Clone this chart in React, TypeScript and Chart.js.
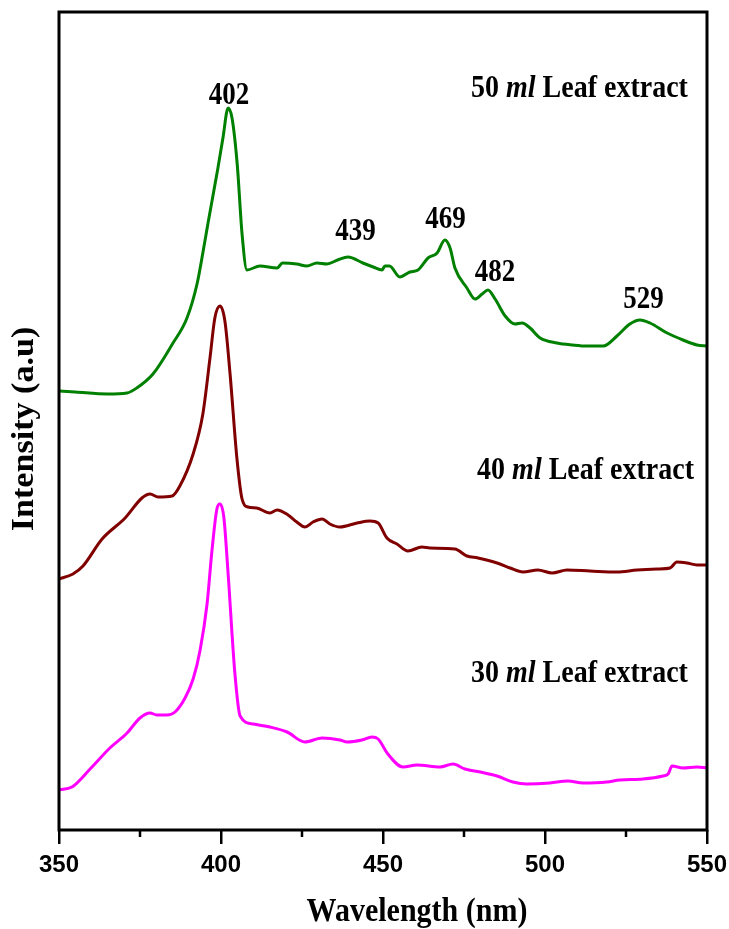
import React, { useEffect, useRef } from "react";
import { Chart, registerables } from "chart.js";

Chart.register(...registerables);

// ---- data (wavelength nm, intensity a.u.) ----
const wl50 = [350, 355, 365, 371, 374, 379, 385, 389.5, 392.6, 394.5, 396, 397.5, 399, 400.6, 402.2, 403.4, 405, 406.5, 408, 412, 417.3, 419, 423.4, 426.5, 429.6, 432.7, 436, 439.2, 443.8, 447, 449.7, 450.6, 452, 455.2, 458.3, 460.8, 463.9, 466.7, 469.1, 470.7, 472.2, 475.9, 478.4, 480.6, 482.4, 484.6, 487.7, 490.7, 492.9, 495.4, 498.5, 503.7, 508.6, 513, 518, 522.2, 526.2, 529.3, 532.4, 537.7, 542.6, 546.9, 550];
const int50 = [439, 438, 436, 437, 442, 456, 486, 512, 546, 579, 607, 634, 661, 692, 722, 712, 666, 596, 560, 564, 562, 567, 566, 564, 567, 566, 570, 573, 567, 563, 560, 564, 564, 553, 558, 560, 572, 577, 590, 582, 562, 542, 531, 536, 540, 531, 514, 506, 507, 502, 492, 487, 485, 484, 484, 494, 506, 510, 507, 497, 490, 485, 484];

const wl40 = [350, 354.3, 357.4, 363.3, 370.4, 375.6, 378.1, 380.6, 384.9, 387.3, 391.4, 394.4, 396.6, 398.1, 399.7, 401.2, 402.8, 404.9, 406.5, 408.3, 411, 415.1, 417.3, 420.7, 423.4, 425.9, 428.4, 431.2, 433.6, 436.7, 442, 446, 448.5, 451.2, 454.3, 457.7, 462, 464.5, 472.2, 475.9, 479.3, 485.2, 489.2, 493.2, 497.8, 502.2, 506.8, 513.9, 522.2, 528.4, 534.6, 538.6, 540.7, 543.8, 546.9, 550];
const int40 = [251, 256, 264, 291, 312, 332, 336, 333, 334, 344, 376, 416, 472, 512, 524, 509, 456, 372, 331, 323, 322, 317, 320, 315, 308, 303, 308, 311, 306, 303, 307, 309, 307, 292, 286, 279, 283, 282, 281, 274, 272, 267, 262, 258, 260, 257, 260, 259, 258, 260, 261, 262, 268, 267, 265, 265];

const wl30 = [350, 354, 359.6, 365.7, 371, 375, 378.1, 380.2, 383.3, 385.8, 388.9, 391.4, 393.5, 395.7, 397.2, 398.8, 399.7, 400.9, 402.2, 404.3, 405.9, 409.9, 415.1, 420.4, 425.9, 431.2, 436.7, 438.9, 443.5, 446.6, 448.5, 451.5, 456.2, 460.5, 467.6, 471.6, 475.3, 480, 485.2, 490.1, 494.4, 501.5, 507.1, 511.7, 519.1, 523.1, 530.2, 536.4, 538, 539.2, 542.6, 546.9, 550];
const int30 = [40, 43, 61, 82, 97, 112, 117, 115, 115, 118, 132, 151, 179, 226, 279, 322, 326, 312, 256, 156, 114, 106, 103, 98, 88, 92, 90, 88, 90, 93, 91, 76, 63, 65, 63, 66, 61, 58, 54, 48, 46, 47, 49, 47, 48, 50, 51, 54, 56, 64, 62, 63, 62];

// peak annotations on the 50 ml curve
const peakText = ["402", "439", "469", "482", "529"];
const peakX = [402.5, 441.5, 469.3, 484.6, 530.4];
const peakY = [734, 598, 610, 557, 530];

// series labels (right edge x, centre y)
const seriesAmount = ["50", "40", "30"];
const labelX = [544.1, 546.0, 544.1];
const labelY = [741, 359, 156];

const xTicksMajor = [350, 400, 450, 500, 550];
const xTicksMinor = [375, 425, 475, 525];

const xTitle = "Wavelength (nm)";
const yTitle = "Intensity (a.u)";

const toPts = (xs: number[], ys: number[]) => xs.map((x, i) => ({ x, y: ys[i] }));

const SERIF = '"Liberation Serif", "Times New Roman", serif';

const decorPlugin = {
  id: "decor",
  afterDraw(chart: any) {
    const { ctx, chartArea } = chart;
    const xs = chart.scales.x;
    const ys = chart.scales.y;
    ctx.save();
    // frame
    ctx.strokeStyle = "#000";
    ctx.lineWidth = 3;
    ctx.strokeRect(chartArea.left, chartArea.top, chartArea.right - chartArea.left, chartArea.bottom - chartArea.top);
    // minor ticks
    ctx.lineWidth = 2.5;
    xTicksMinor.forEach((v) => {
      const px = xs.getPixelForValue(v);
      ctx.beginPath();
      ctx.moveTo(px, chartArea.bottom);
      ctx.lineTo(px, chartArea.bottom + 7);
      ctx.stroke();
    });
    ctx.fillStyle = "#000";
    ctx.textBaseline = "middle";
    // axis titles
    ctx.textAlign = "center";
    ctx.font = `bold 30px ${SERIF}`;
    ctx.save();
    ctx.translate(xs.getPixelForValue(460.5), chartArea.bottom + 82);
    ctx.scale(1, 1.12);
    ctx.fillText(xTitle, 0, 0);
    ctx.restore();
    ctx.save();
    ctx.translate(25, ys.getPixelForValue(401));
    ctx.rotate(-Math.PI / 2);
    ctx.font = `bold 31px ${SERIF}`;
    ctx.scale(1.1, 1);
    ctx.fillText(yTitle, 0, 0);
    ctx.restore();
    // peak labels
    ctx.font = `bold 27px ${SERIF}`;
    peakText.forEach((t, i) => {
      const px = xs.getPixelForValue(peakX[i]);
      const py = ys.getPixelForValue(peakY[i]);
      ctx.save();
      ctx.translate(px, py);
      ctx.scale(1, 1.18);
      ctx.fillText(t, 0, 0);
      ctx.restore();
    });
    // series labels: "NN ml Leaf extract"
    ctx.textAlign = "left";
    seriesAmount.forEach((amt, i) => {
      const parts = [
        { t: amt + " ", f: `bold 28px ${SERIF}` },
        { t: "ml", f: `italic bold 28px ${SERIF}` },
        { t: " Leaf extract", f: `bold 28px ${SERIF}` },
      ];
      let total = 0;
      parts.forEach((p) => {
        ctx.font = p.f;
        total += ctx.measureText(p.t).width;
      });
      const right = xs.getPixelForValue(labelX[i]);
      const py = ys.getPixelForValue(labelY[i]);
      ctx.save();
      ctx.translate(right - total, py);
      ctx.scale(1, 1.15);
      let cx = 0;
      parts.forEach((p) => {
        ctx.font = p.f;
        ctx.fillText(p.t, cx, 0);
        cx += ctx.measureText(p.t).width;
      });
      ctx.restore();
    });
    ctx.restore();
  },
};

export default function App() {
  const ref = useRef<HTMLCanvasElement>(null);
  useEffect(() => {
    if (!ref.current) return;
    const mk = (label: string, xs: number[], ys: number[], color: string) => ({
      label,
      data: toPts(xs, ys),
      borderColor: color,
      backgroundColor: color,
      borderWidth: 3,
      pointRadius: 0,
      cubicInterpolationMode: "monotone" as const,
      fill: false,
    });
    const chart = new Chart(ref.current, {
      type: "line",
      data: {
        datasets: [
          mk("50 ml Leaf extract", wl50, int50, "#008000"),
          mk("40 ml Leaf extract", wl40, int40, "#800000"),
          mk("30 ml Leaf extract", wl30, int30, "#ff00ff"),
        ],
      },
      plugins: [decorPlugin],
      options: {
        animation: false,
        responsive: false,
        layout: { padding: { top: 12, right: 22, left: 0, bottom: 0 } },
        plugins: { legend: { display: false }, tooltip: { enabled: false } },
        scales: {
          x: {
            type: "linear",
            min: 350,
            max: 550,
            afterFit: (s: any) => {
              s.height = 99;
              s.paddingLeft = 0;
              s.paddingRight = 0;
            },
            afterBuildTicks: (s: any) => {
              s.ticks = xTicksMajor.map((v) => ({ value: v }));
            },
            border: { display: false },
            grid: {
              drawOnChartArea: false,
              drawTicks: true,
              tickLength: 14,
              color: "#000",
              lineWidth: 2.5,
            },
            ticks: {
              color: "#000",
              padding: 7,
              maxRotation: 0,
              font: { family: '"Liberation Sans Narrow", "Arial Narrow", "Liberation Sans", sans-serif', size: 24, weight: "bold", lineHeight: 1.2 },
            },
            title: { display: false },
          },
          y: {
            type: "linear",
            min: 0,
            max: 818,
            afterFit: (s: any) => {
              s.width = 59;
              s.paddingTop = 0;
              s.paddingBottom = 0;
            },
            border: { display: false },
            grid: { display: false },
            ticks: { display: false },
            title: { display: false },
          },
        },
      },
    } as any);
    return () => chart.destroy();
  }, []);
  return (
    <div style={{ position: "absolute", left: 0, top: 0, width: 729, height: 929, background: "#fff" }}>
      <canvas ref={ref} width={729} height={929} style={{ display: "block" }} />
    </div>
  );
}
